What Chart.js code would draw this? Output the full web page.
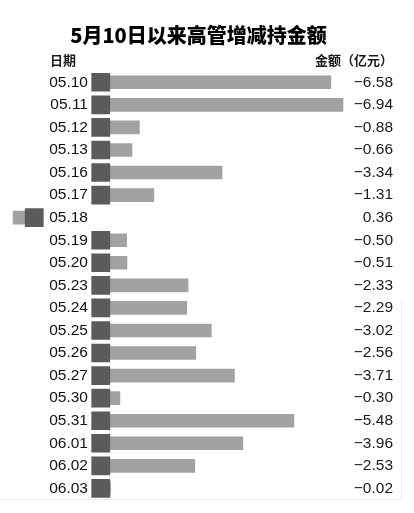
<!DOCTYPE html>
<html>
<head>
<meta charset="utf-8">
<script src="https://cdn.jsdelivr.net/npm/chart.js@4/dist/chart.umd.min.js"></script>
<style>
    html, body { margin: 0; padding: 0; background: #ffffff; }
    #wrap { width: 414px; height: 513px; position: relative; }
</style>
</head>
<body>
<div id="wrap"><canvas id="holdings-chart"></canvas></div>
<script>
// dates of each row, top to bottom
var dates = ["05.10", "05.11", "05.12", "05.13", "05.16", "05.17", "05.18", "05.19", "05.20", "05.23",
             "05.24", "05.25", "05.26", "05.27", "05.30", "05.31", "06.01", "06.02", "06.03"];

// net amount per day, 100 million yuan (negative = reduction)
var amounts = [-6.58, -6.94, -0.88, -0.66, -3.34, -1.31, 0.36, -0.50, -0.51, -2.33,
               -2.29, -3.02, -2.56, -3.71, -0.30, -5.48, -3.96, -2.53, -0.02];

var titleText = "5月10日以来高管增减持金额";
var leftHeader = "日期";
var rightHeader = "金额（亿元）";

// marker square width, shift used for increases and label gap, in axis units
var MARK = 0.54;
var POS_SHIFT = 1.98;
var LABEL_GAP = 0.11;

var markerBars = amounts.map(function (v) {
    if (v > 0) {
        return [-POS_SHIFT - MARK, -POS_SHIFT];
    }
    return [-MARK, 0];
});

var amountBars = amounts.map(function (v) {
    if (v > 0) {
        return [-POS_SHIFT - MARK - v, -POS_SHIFT - MARK];
    }
    return [0, -v];
});

var amountLabels = amounts.map(function (v) {
    return v < 0 ? "\u2212" + Math.abs(v).toFixed(2) : v.toFixed(2);
});

var headerPlugin = {
    id: "headers",
    beforeDatasetsDraw: function (chart) {
        var ctx = chart.ctx;
        ctx.save();
        ctx.strokeStyle = "#ededed";
        ctx.lineWidth = 1;
        ctx.beginPath();
        ctx.moveTo(0, 499.5);
        ctx.lineTo(402, 499.5);
        ctx.moveTo(401.5, 499.5);
        ctx.lineTo(401.5, 300);
        ctx.stroke();
        ctx.restore();
    },
    afterDraw: function (chart) {
        var ctx = chart.ctx;
        ctx.save();
        ctx.fillStyle = "#1a1a1a";
        ctx.font = "bold 13px 'Noto Sans CJK SC'";
        ctx.textBaseline = "middle";
        ctx.textAlign = "left";
        ctx.fillText(leftHeader, 50, 60);
        ctx.textAlign = "right";
        ctx.fillText(rightHeader, 393, 60);
        ctx.restore();
    }
};

new Chart(document.getElementById("holdings-chart"), {
    type: "bar",
    data: {
        labels: dates,
        datasets: [
            {
                label: "marker",
                data: markerBars,
                backgroundColor: "#5b5b5b",
                barThickness: 18,
                borderWidth: 0
            },
            {
                label: "amount",
                data: amountBars,
                backgroundColor: "#a2a2a2",
                barThickness: 13,
                borderWidth: 0
            }
        ]
    },
    options: {
        indexAxis: "y",
        responsive: true,
        maintainAspectRatio: false,
        animation: false,
        grouped: false,
        layout: {
            padding: { left: 4, right: 21, top: 0, bottom: 10 }
        },
        scales: {
            x: {
                display: false,
                min: -3.15,
                max: 7.0
            },
            y: {
                position: { x: -MARK - LABEL_GAP },
                grid: { display: false, drawTicks: false },
                border: { display: false },
                ticks: {
                    padding: 0,
                    color: "#111111",
                    font: { family: "'Liberation Sans', Arial, sans-serif", size: 15.5 }
                }
            },
            y2: {
                type: "category",
                labels: amountLabels,
                position: "right",
                offset: true,
                grid: { display: false, drawTicks: false },
                border: { display: false },
                afterFit: function (scale) {
                    scale.width = 48;
                },
                ticks: {
                    crossAlign: "far",
                    padding: 4,
                    color: "#1a1a1a",
                    font: { family: "'Liberation Sans', Arial, sans-serif", size: 15.5 }
                }
            }
        },
        plugins: {
            legend: { display: false },
            tooltip: { enabled: false },
            title: {
                display: true,
                text: titleText,
                color: "#000000",
                padding: { top: 23, bottom: 24 },
                font: { family: "'Noto Sans CJK SC'", size: 20, weight: "900" }
            }
        }
    },
    plugins: [headerPlugin]
});
</script>
</body>
</html>
